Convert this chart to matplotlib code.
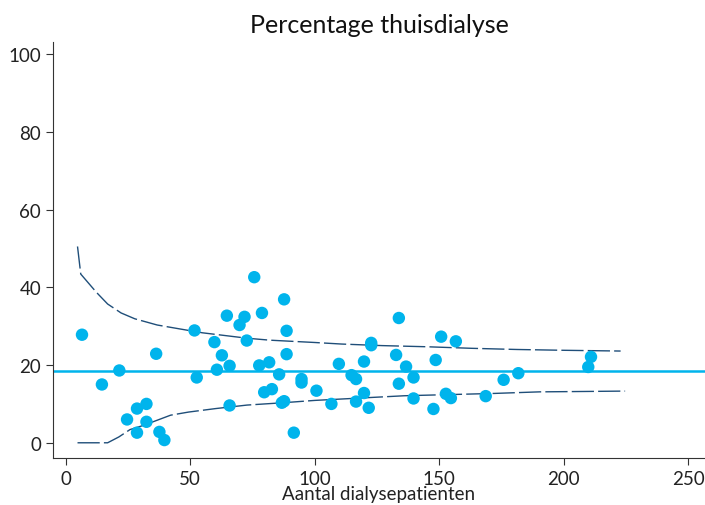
import numpy as np
import matplotlib.pyplot as plt

# aantal patienten per centrum en percentage thuisdialyse
patients = [6.5, 14.5, 21.5, 24.6, 28.6, 28.6, 32.4, 32.4, 36.3, 37.6, 39.6,
            51.7, 52.6, 59.7, 60.7, 62.7, 64.7, 65.8, 65.8, 69.8, 71.8, 72.7,
            75.7, 77.7, 78.8, 79.7, 81.7, 82.8, 85.7, 86.8, 87.7, 87.7, 88.7,
            88.7, 91.6, 94.7, 94.7, 100.7, 106.7, 109.7, 114.8, 116.6, 116.6,
            119.8, 119.8, 121.7, 122.7, 122.7, 132.7, 133.8, 133.8, 136.7,
            139.7, 139.7, 147.7, 148.6, 150.8, 152.7, 154.7, 156.7, 168.7,
            175.9, 181.8, 209.9, 211.0]
percentage = [27.8, 15.0, 18.6, 6.0, 8.8, 2.6, 10.0, 5.4, 22.9, 2.8, 0.7,
              28.9, 16.8, 25.9, 18.8, 22.5, 32.7, 19.8, 9.6, 30.3, 32.4, 26.3,
              42.6, 19.9, 33.4, 13.0, 20.7, 13.8, 17.6, 10.3, 10.7, 36.9, 28.8,
              22.8, 2.6, 16.4, 15.5, 13.4, 10.0, 20.3, 17.4, 16.4, 10.6,
              20.9, 12.8, 9.0, 25.7, 25.1, 22.6, 32.1, 15.2, 19.6,
              16.8, 11.4, 8.7, 21.3, 27.3, 12.6, 11.5, 26.1, 12.0,
              16.2, 17.9, 19.5, 22.1]
mean_pct = 18.5

upper_n = [4.7, 6.0, 12.3, 16.8, 22.2, 27.7, 36.7, 45.7, 54.8, 63.8, 72.8,
           81.9, 90.9, 100.0, 110.8, 127.0, 145.2, 163.2, 181.3, 199.4, 222.9]
upper_pct = [50.5, 43.4, 38.7, 35.7, 33.4, 31.9, 30.3, 29.3, 28.3, 27.6, 26.9,
             26.4, 26.1, 25.8, 25.4, 25.0, 24.7, 24.3, 24.0, 23.8, 23.6]
lower_n = [4.7, 16.8, 21.3, 25.8, 31.3, 36.7, 42.1, 49.3, 60.2, 72.8, 87.3,
           100.0, 118.0, 136.1, 154.2, 172.3, 190.3, 208.4, 224.7]
lower_pct = [0.0, 0.0, 1.5, 3.4, 4.5, 5.8, 7.1, 7.9, 8.8, 9.7, 10.3,
             10.9, 11.5, 12.1, 12.4, 12.7, 13.1, 13.2, 13.3]

plt.rcParams['font.family'] = ['Lato', 'DejaVu Sans']

fig = plt.figure(figsize=(7.05, 5.06), dpi=100)
ax = fig.add_axes([0.075, 0.093, 0.925, 0.822])

ax.axhline(mean_pct, color='#00b4ec', lw=1.8, zorder=2)
ax.plot(upper_n, upper_pct, color='#1f4e79', lw=1.0, dashes=(16, 3), zorder=2)
ax.plot(lower_n, lower_pct, color='#1f4e79', lw=1.0, dashes=(16, 3), zorder=2)
ax.scatter(patients, percentage, s=80, color='#00b4ec', edgecolors='none', zorder=3)

ax.set_xlim(-5.2, 256.8)
ax.set_ylim(-3.9, 103.1)
ax.set_xticks([0, 50, 100, 150, 200, 250])
ax.set_yticks([0, 20, 40, 60, 80, 100])

for side in ['top', 'right']:
    ax.spines[side].set_visible(False)
for side in ['left', 'bottom']:
    ax.spines[side].set_color('#333333')
ax.tick_params(colors='#333333', labelcolor='#222222', labelsize=13.5, length=5)

ax.set_xlabel('Aantal dialysepatienten', fontsize=13.5, color='#222222', labelpad=-1)
ax.set_title('Percentage thuisdialyse', fontsize=18, color='#111111', pad=7)

fig.savefig('out.png', dpi=100)
